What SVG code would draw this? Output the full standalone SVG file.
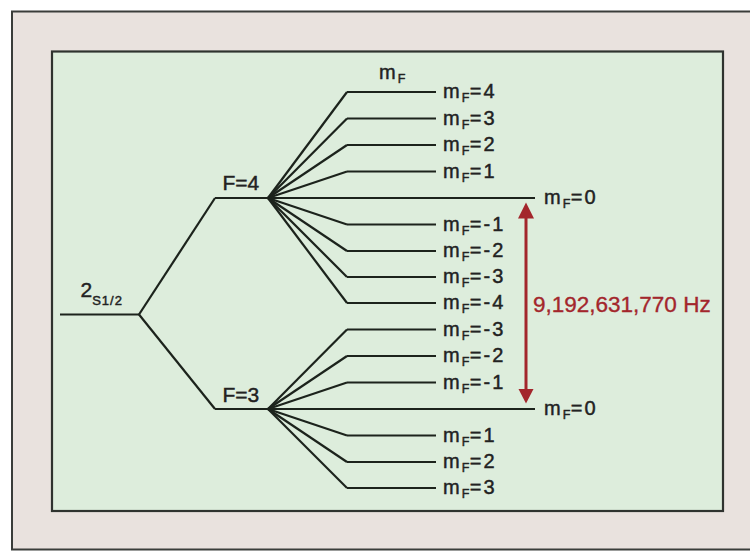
<svg xmlns="http://www.w3.org/2000/svg" width="750" height="551" viewBox="0 0 750 551">
<style>
.lv{stroke:#1c231c;stroke-width:2.2;fill:none}
.cn{stroke:#1c231c;stroke-width:2.2;fill:none}
.t{font-family:"Liberation Sans",Arial,sans-serif;fill:#222;stroke:#222;stroke-width:0.45px}
.lbl{font-size:20px;letter-spacing:2px}
.big{font-size:21px}
.sub{font-size:12.5px;letter-spacing:0.5px}
.red{fill:#a3262c;stroke:#a3262c;stroke-width:0.35px}
</style>
<rect width="750" height="551" fill="#ffffff"/>
<g id="frame">
<rect x="12" y="11.5" width="745" height="538" fill="#e9e2de" stroke="#3a3d3a" stroke-width="2"/>
<rect x="52" y="51.5" width="671" height="459.5" fill="#ddeddc" stroke="#2f332f" stroke-width="2.2"/>
</g>
<g id="connectors">
<line class="cn" x1="139" y1="314.5" x2="215" y2="198"/>
<line class="cn" x1="139" y1="314.5" x2="215" y2="409"/>
<line class="cn" x1="268" y1="198" x2="347" y2="92"/>
<line class="cn" x1="268" y1="198" x2="347" y2="118.5"/>
<line class="cn" x1="268" y1="198" x2="347" y2="145"/>
<line class="cn" x1="268" y1="198" x2="347" y2="171.5"/>
<line class="cn" x1="268" y1="198" x2="347" y2="198"/>
<line class="cn" x1="268" y1="198" x2="347" y2="224.5"/>
<line class="cn" x1="268" y1="198" x2="347" y2="251"/>
<line class="cn" x1="268" y1="198" x2="347" y2="277"/>
<line class="cn" x1="268" y1="198" x2="347" y2="303"/>
<line class="cn" x1="268" y1="409" x2="347" y2="329.5"/>
<line class="cn" x1="268" y1="409" x2="347" y2="356"/>
<line class="cn" x1="268" y1="409" x2="347" y2="382.5"/>
<line class="cn" x1="268" y1="409" x2="347" y2="409"/>
<line class="cn" x1="268" y1="409" x2="347" y2="435.5"/>
<line class="cn" x1="268" y1="409" x2="347" y2="462"/>
<line class="cn" x1="268" y1="409" x2="347" y2="488"/>
<g id="transition">
<line x1="526" y1="215" x2="526" y2="392" stroke="#a3262c" stroke-width="3"/>
<polygon points="526,202.5 518,218.5 534,218.5" fill="#a3262c"/>
<polygon points="526,403.5 518.5,389 533.5,389" fill="#a3262c"/>
<text class="t red" x="533" y="311.5" font-size="22.5px">9,192,631,770 Hz</text>
</g>
</g>
<g id="ground">
<line class="lv" x1="60" y1="314.5" x2="139" y2="314.5"/>
<text class="t" x="80.5" y="297.3" font-size="21px">2<tspan font-size="13px" letter-spacing="1px" dy="7.7">S1/2</tspan></text>
</g>
<g id="F4">
<line class="lv" x1="215" y1="198" x2="268" y2="198"/>
<text class="t big" x="222.5" y="189.5">F=4</text>
</g>
<g id="F3">
<line class="lv" x1="215" y1="409" x2="268" y2="409"/>
<text class="t big" x="222.5" y="401.5">F=3</text>
</g>
<g id="mF-header">
<text class="t lbl" x="379" y="79">m<tspan class="sub" dy="4">F</tspan></text>
</g>
<g id="F4-m4"><line class="lv" x1="347" y1="92" x2="436" y2="92"/><text class="t lbl" x="443" y="98">m<tspan class="sub" dy="4">F</tspan><tspan dy="-4">=4</tspan></text></g>
<g id="F4-m3"><line class="lv" x1="347" y1="118.5" x2="436" y2="118.5"/><text class="t lbl" x="443" y="124.5">m<tspan class="sub" dy="4">F</tspan><tspan dy="-4">=3</tspan></text></g>
<g id="F4-m2"><line class="lv" x1="347" y1="145" x2="436" y2="145"/><text class="t lbl" x="443" y="151">m<tspan class="sub" dy="4">F</tspan><tspan dy="-4">=2</tspan></text></g>
<g id="F4-m1"><line class="lv" x1="347" y1="171.5" x2="436" y2="171.5"/><text class="t lbl" x="443" y="177.5">m<tspan class="sub" dy="4">F</tspan><tspan dy="-4">=1</tspan></text></g>
<g id="F4-m0"><line class="lv" x1="347" y1="198" x2="535" y2="198"/><text class="t lbl" x="544" y="204">m<tspan class="sub" dy="4">F</tspan><tspan dy="-4">=0</tspan></text></g>
<g id="F4-mm1"><line class="lv" x1="347" y1="224.5" x2="436" y2="224.5"/><text class="t lbl" x="443" y="230.5">m<tspan class="sub" dy="4">F</tspan><tspan dy="-4">=-1</tspan></text></g>
<g id="F4-mm2"><line class="lv" x1="347" y1="251" x2="436" y2="251"/><text class="t lbl" x="443" y="257">m<tspan class="sub" dy="4">F</tspan><tspan dy="-4">=-2</tspan></text></g>
<g id="F4-mm3"><line class="lv" x1="347" y1="277" x2="436" y2="277"/><text class="t lbl" x="443" y="283">m<tspan class="sub" dy="4">F</tspan><tspan dy="-4">=-3</tspan></text></g>
<g id="F4-mm4"><line class="lv" x1="347" y1="303" x2="436" y2="303"/><text class="t lbl" x="443" y="309">m<tspan class="sub" dy="4">F</tspan><tspan dy="-4">=-4</tspan></text></g>
<g id="F3-mm3"><line class="lv" x1="347" y1="329.5" x2="436" y2="329.5"/><text class="t lbl" x="443" y="335.5">m<tspan class="sub" dy="4">F</tspan><tspan dy="-4">=-3</tspan></text></g>
<g id="F3-mm2"><line class="lv" x1="347" y1="356" x2="436" y2="356"/><text class="t lbl" x="443" y="362">m<tspan class="sub" dy="4">F</tspan><tspan dy="-4">=-2</tspan></text></g>
<g id="F3-mm1"><line class="lv" x1="347" y1="382.5" x2="436" y2="382.5"/><text class="t lbl" x="443" y="388.5">m<tspan class="sub" dy="4">F</tspan><tspan dy="-4">=-1</tspan></text></g>
<g id="F3-m0"><line class="lv" x1="347" y1="409" x2="535" y2="409"/><text class="t lbl" x="544" y="415">m<tspan class="sub" dy="4">F</tspan><tspan dy="-4">=0</tspan></text></g>
<g id="F3-m1"><line class="lv" x1="347" y1="435.5" x2="436" y2="435.5"/><text class="t lbl" x="443" y="441.5">m<tspan class="sub" dy="4">F</tspan><tspan dy="-4">=1</tspan></text></g>
<g id="F3-m2"><line class="lv" x1="347" y1="462" x2="436" y2="462"/><text class="t lbl" x="443" y="468">m<tspan class="sub" dy="4">F</tspan><tspan dy="-4">=2</tspan></text></g>
<g id="F3-m3"><line class="lv" x1="347" y1="488" x2="436" y2="488"/><text class="t lbl" x="443" y="494">m<tspan class="sub" dy="4">F</tspan><tspan dy="-4">=3</tspan></text></g>
</svg>
